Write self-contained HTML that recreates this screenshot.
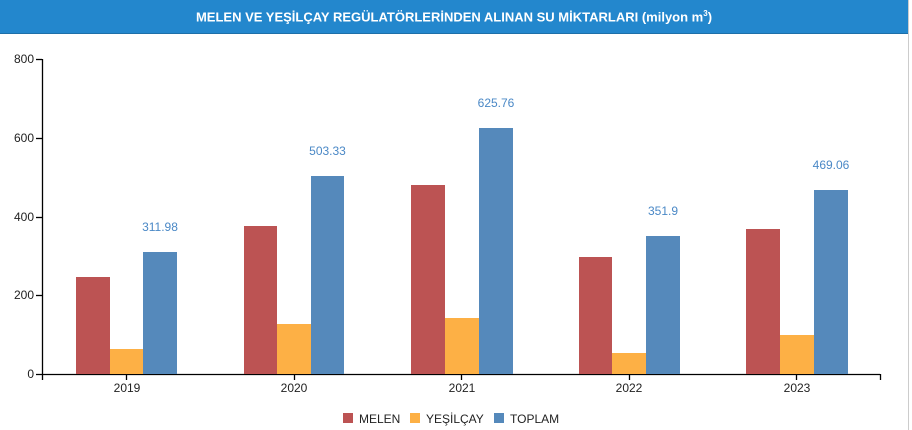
<!DOCTYPE html>
<html><head><meta charset="utf-8"><style>
html,body{margin:0;padding:0;background:#fff;}
body{width:912px;height:430px;overflow:hidden;position:relative;font-family:"Liberation Sans",sans-serif;}
.hdr{position:absolute;left:0;top:0;width:908px;height:33px;background:#2387cd;border-bottom:1px solid #1d6fa8;color:#fff;font-weight:bold;font-size:13px;text-align:center;line-height:28px;}
.rb{position:absolute;left:908px;top:0;width:1px;height:430px;background:#ccc;}
</style></head><body>
<div class="hdr">MELEN VE YEŞİLÇAY REGÜLATÖRLERİNDEN ALINAN SU MİKTARLARI (milyon m<sup style="font-size:8px">3</sup>)</div>
<div class="rb"></div>
<svg width="912" height="430" style="position:absolute;left:0;top:0" font-family="Liberation Sans, sans-serif">
<g font-size="12" fill="#222" text-anchor="end">
<text x="34" y="63">800</text><text x="34" y="142">600</text><text x="34" y="221">400</text><text x="34" y="299">200</text><text x="34" y="378">0</text>
</g>
<g stroke="#000" stroke-width="1.3">
<line x1="42.5" y1="59" x2="42.5" y2="380"/>
<line x1="36" y1="59.5" x2="42" y2="59.5"/><line x1="36" y1="138.5" x2="42" y2="138.5"/><line x1="36" y1="217.5" x2="42" y2="217.5"/><line x1="36" y1="295.5" x2="42" y2="295.5"/>
<line x1="36" y1="374.5" x2="880" y2="374.5"/>
<line x1="880.5" y1="374" x2="880.5" y2="380"/>
<line x1="126.5" y1="374" x2="126.5" y2="380"/><line x1="294.5" y1="374" x2="294.5" y2="380"/><line x1="461.5" y1="374" x2="461.5" y2="380"/><line x1="629.5" y1="374" x2="629.5" y2="380"/><line x1="796.5" y1="374" x2="796.5" y2="380"/>
</g>
<g>
<rect x="76" y="277" width="34" height="97" fill="#bc5353"/><rect x="110" y="349" width="33" height="25" fill="#fdb045"/><rect x="143" y="252" width="34" height="122" fill="#5589bb"/>
<rect x="244" y="226" width="33" height="148" fill="#bc5353"/><rect x="277" y="324" width="34" height="50" fill="#fdb045"/><rect x="311" y="176" width="33" height="198" fill="#5589bb"/>
<rect x="411" y="185" width="34" height="189" fill="#bc5353"/><rect x="445" y="318" width="34" height="56" fill="#fdb045"/><rect x="479" y="128" width="34" height="246" fill="#5589bb"/>
<rect x="579" y="257" width="33" height="117" fill="#bc5353"/><rect x="612" y="353" width="34" height="21" fill="#fdb045"/><rect x="646" y="236" width="34" height="138" fill="#5589bb"/>
<rect x="746" y="229" width="34" height="145" fill="#bc5353"/><rect x="780" y="335" width="34" height="39" fill="#fdb045"/><rect x="814" y="190" width="34" height="184" fill="#5589bb"/>
</g>
<g font-size="12" fill="#4a88c6" text-anchor="middle">
<text x="160" y="231">311.98</text><text x="327.5" y="155">503.33</text><text x="496" y="107">625.76</text><text x="663" y="215">351.9</text><text x="831" y="169">469.06</text>
</g>
<g font-size="12" fill="#222" text-anchor="middle">
<text x="127" y="392">2019</text><text x="294" y="392">2020</text><text x="462" y="392">2021</text><text x="629" y="392">2022</text><text x="797" y="392">2023</text>
</g>
<g font-size="12" fill="#222">
<rect x="343" y="413" width="10" height="10" fill="#bc5353"/><text x="359" y="423">MELEN</text>
<rect x="410" y="413" width="10" height="10" fill="#fdb045"/><text x="426" y="423">YEŞİLÇAY</text>
<rect x="494" y="413" width="10" height="10" fill="#5589bb"/><text x="510" y="423">TOPLAM</text>
</g>
</svg>
</body></html>
